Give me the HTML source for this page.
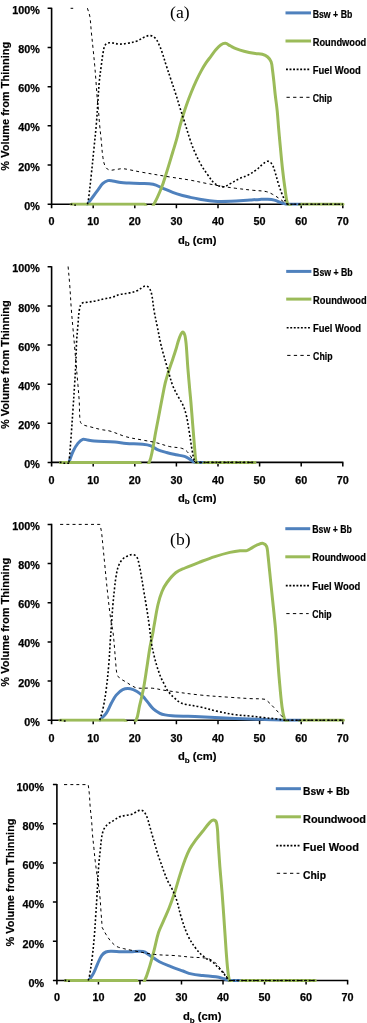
<!DOCTYPE html>
<html><head><meta charset="utf-8"><title>Volume from thinning</title>
<style>
html,body{margin:0;padding:0;background:#fff;}
body{width:367px;height:1023px;overflow:hidden;}
svg{display:block;will-change:transform;}
.tl{font-family:'Liberation Sans', sans-serif;font-weight:bold;font-size:10.8px;fill:#000;stroke:#000;stroke-width:0.25px;}
.ti{font-family:'Liberation Sans', sans-serif;font-weight:bold;font-size:11.2px;fill:#000;stroke:#000;stroke-width:0.2px;}
.lg{font-family:'Liberation Sans', sans-serif;font-weight:bold;fill:#000;stroke:#000;stroke-width:0.2px;}
.pl{font-family:'Liberation Serif',serif;font-size:17.6px;fill:#000;}
</style></head>
<body>
<svg width="367" height="1023" viewBox="0 0 367 1023">
<rect width="367" height="1023" fill="#fff"/>
<path d="M51.60 7.70 V208.20 M51.00 204.20 H343.40" stroke="#000" stroke-width="1.6" fill="none"/>
<path d="M47.60 204.20H51.60M47.60 165.02H51.60M47.60 125.84H51.60M47.60 86.66H51.60M47.60 47.48H51.60M47.60 8.30H51.60M93.20 204.20V208.20M134.80 204.20V208.20M176.40 204.20V208.20M218.00 204.20V208.20M259.60 204.20V208.20M301.20 204.20V208.20M342.80 204.20V208.20" stroke="#000" stroke-width="1.5" fill="none"/>
<clipPath id="c204"><rect x="51.60" y="5.80" width="294.20" height="199.90"/></clipPath>
<g clip-path="url(#c204)"><path d="M87.40 204.20 C89.45 201.43 91.05 199.27 93.10 196.50 C94.86 194.12 96.23 192.27 98.00 189.90 C99.76 187.55 100.77 185.42 102.90 183.40 C104.37 182.00 105.83 181.10 107.80 180.60 C109.51 180.16 110.95 180.63 112.70 180.90 C115.68 181.35 117.91 182.21 120.90 182.60 C123.80 182.97 126.08 182.88 129.00 183.00 C132.96 183.17 136.04 183.20 140.00 183.40 C144.72 183.63 148.48 183.21 153.10 184.20 C156.84 185.00 159.37 186.82 162.90 188.30 C166.43 189.78 169.11 191.08 172.70 192.40 C176.17 193.68 178.94 194.49 182.50 195.50 C185.17 196.26 187.28 196.72 190.00 197.30 C193.51 198.05 196.25 198.64 199.80 199.20 C205.07 200.04 209.17 200.86 214.50 201.20 C220.39 201.58 225.00 201.40 230.90 201.20 C237.79 200.97 243.12 200.43 250.00 200.00 C253.60 199.78 256.40 199.54 260.00 199.40 C262.81 199.29 265.00 199.16 267.80 199.30 C270.15 199.42 272.01 199.52 274.30 200.10 C276.76 200.72 278.51 201.75 280.90 202.60 C282.65 203.22 284.04 203.62 285.80 204.20 C291.34 204.20 295.66 204.20 301.20 204.20" fill="none" stroke="#4F81BD" stroke-width="3" stroke-linecap="round" stroke-linejoin="round"/><path d="M71.20 204.20 C97.59 204.20 118.11 204.20 144.50 204.20 C146.30 205.93 147.00 209.00 149.50 209.00 C151.84 209.00 152.74 206.24 153.90 204.20 C157.03 198.72 158.95 194.16 161.30 188.30 C163.38 183.12 164.52 178.92 166.20 173.60 C168.62 165.96 170.37 159.97 172.70 152.30 C174.08 147.77 175.24 144.27 176.50 139.70 C177.80 135.01 178.53 131.30 179.80 126.60 C180.91 122.47 181.85 119.28 183.10 115.20 C184.19 111.65 185.05 108.89 186.30 105.40 C188.00 100.65 189.41 96.98 191.30 92.30 C192.97 88.16 194.33 84.95 196.20 80.90 C197.86 77.32 199.21 74.56 201.10 71.10 C202.74 68.08 204.10 65.77 206.00 62.90 C207.63 60.43 209.13 58.67 210.90 56.30 C212.66 53.95 213.89 52.02 215.80 49.80 C217.43 47.91 218.63 46.30 220.70 44.90 C222.18 43.90 223.62 43.15 225.40 43.30 C227.26 43.46 228.33 44.86 230.00 45.70 C232.11 46.77 233.70 47.72 235.90 48.60 C238.75 49.74 241.02 50.54 244.00 51.30 C248.06 52.34 251.27 52.92 255.40 53.60 C257.86 54.00 259.89 53.63 262.30 54.30 C264.39 54.88 266.05 55.59 267.70 57.00 C269.31 58.37 270.37 59.81 271.10 61.80 C272.14 64.61 272.08 67.03 272.50 70.00 C273.05 73.91 273.37 76.97 273.80 80.90 C274.34 85.79 274.64 89.61 275.20 94.50 C275.87 100.37 276.60 104.92 277.20 110.80 C277.83 116.98 278.07 121.81 278.60 128.00 C279.11 133.94 279.54 138.56 280.10 144.50 C280.94 153.32 281.52 160.19 282.50 169.00 C283.29 176.11 283.99 181.62 285.00 188.70 C285.76 194.01 285.99 198.23 287.40 203.40 C287.66 204.36 288.72 204.58 289.50 205.20 C291.46 206.77 292.50 209.71 295.00 209.50 C297.93 209.25 298.97 206.11 301.20 204.20 C316.25 204.20 327.95 204.20 343.00 204.20" fill="none" stroke="#9BBB59" stroke-width="3" stroke-linecap="round" stroke-linejoin="round"/><path d="M87.40 204.20 C87.69 203.19 88.06 202.44 88.20 201.40 C89.51 191.41 90.31 183.62 91.40 173.60 C92.36 164.75 93.02 157.86 93.90 149.00 C94.78 140.18 95.56 133.33 96.30 124.50 C97.04 115.69 97.38 108.82 98.00 100.00 C98.46 93.41 98.67 88.27 99.30 81.70 C99.86 75.81 100.54 71.26 101.30 65.40 C101.84 61.25 102.20 58.02 102.90 53.90 C103.35 51.25 103.53 49.11 104.50 46.60 C105.04 45.21 105.64 43.90 107.00 43.30 C108.88 42.47 110.65 42.87 112.70 43.00 C115.07 43.16 116.83 44.05 119.20 44.10 C122.17 44.16 124.48 43.82 127.40 43.30 C130.98 42.66 133.80 42.16 137.20 40.90 C140.14 39.81 141.98 37.96 144.90 36.80 C146.85 36.03 148.53 35.29 150.60 35.60 C152.61 35.90 154.09 36.94 155.50 38.40 C157.15 40.11 157.78 41.96 158.80 44.10 C160.16 46.97 161.06 49.29 162.10 52.30 C163.72 56.97 164.68 60.70 166.20 65.40 C167.92 70.71 169.34 74.81 171.10 80.10 C172.86 85.39 174.30 89.49 176.00 94.80 C177.50 99.50 178.52 103.20 180.00 107.90 C181.43 112.45 182.66 115.95 184.10 120.50 C186.33 127.51 187.83 133.04 190.20 140.00 C191.72 144.49 192.99 147.96 194.90 152.30 C197.02 157.12 198.79 160.83 201.40 165.40 C203.51 169.09 205.50 171.76 208.00 175.20 C210.22 178.25 211.66 180.93 214.50 183.40 C216.49 185.13 218.59 185.78 221.10 186.60 C222.20 186.96 223.20 186.96 224.30 186.60 C226.81 185.78 228.57 184.64 230.90 183.40 C233.86 181.83 235.98 180.26 239.00 178.80 C242.22 177.23 245.01 176.64 248.20 175.00 C251.26 173.42 253.53 171.95 256.30 169.90 C258.84 168.02 260.38 166.01 262.90 164.10 C264.53 162.86 265.75 161.20 267.80 161.20 C269.61 161.20 270.91 162.59 271.90 164.10 C273.64 166.75 274.11 169.29 275.10 172.30 C276.45 176.39 277.08 179.70 278.40 183.80 C279.74 187.95 280.82 191.18 282.50 195.20 C283.77 198.24 284.88 200.58 286.60 203.40 C286.90 203.90 287.50 203.91 288.00 204.20 C307.80 204.20 323.20 204.20 343.00 204.20" fill="none" stroke="#000" stroke-width="1.6" stroke-dasharray="1.9 2.1" stroke-linecap="butt"/><path d="M70.60 8.30 C71.54 8.30 72.26 8.30 73.20 8.30 M87.40 8.20 C88.26 11.12 89.31 13.30 89.80 16.30 C90.76 22.15 90.80 26.80 91.40 32.70 C91.99 38.57 92.51 43.13 93.10 49.00 C93.70 54.90 94.18 59.49 94.70 65.40 C95.22 71.26 95.55 75.83 96.00 81.70 C96.45 87.60 96.70 92.20 97.20 98.10 C97.60 102.75 98.08 106.35 98.50 111.00 C98.94 115.86 99.15 119.65 99.60 124.50 C100.15 130.41 100.70 134.99 101.30 140.90 C101.89 146.77 101.99 151.37 102.90 157.20 C103.43 160.62 103.73 163.42 105.30 166.50 C106.18 168.23 107.53 169.48 109.40 170.00 C111.69 170.64 113.63 169.74 116.00 169.50 C118.35 169.27 120.14 168.62 122.50 168.70 C125.49 168.80 127.76 169.46 130.70 170.00 C134.06 170.61 136.64 171.30 140.00 171.90 C150.79 173.82 159.19 175.23 170.00 177.00 C177.19 178.18 182.82 178.83 190.00 180.10 C195.90 181.14 200.42 182.27 206.30 183.40 C212.19 184.54 216.78 185.42 222.70 186.40 C227.40 187.18 231.07 187.69 235.80 188.30 C242.02 189.10 246.87 189.62 253.10 190.30 C257.81 190.81 261.56 190.63 266.20 191.60 C268.69 192.12 270.45 193.21 272.70 194.40 C275.14 195.70 276.92 196.93 279.20 198.50 C281.64 200.18 283.41 201.65 285.80 203.40 C286.22 203.71 286.57 203.91 287.00 204.20 C307.16 204.20 322.84 204.20 343.00 204.20" fill="none" stroke="#000" stroke-width="1.0" stroke-dasharray="3.0 3.2"/><path d="M70.50 204.20H72.30" stroke="#000" stroke-width="1.6"/><path d="M74.20 205.20H76.00" stroke="#000" stroke-width="1.6"/></g>
<text x="39.80" y="209.80" text-anchor="end" class="tl">0%</text>
<text x="39.80" y="170.62" text-anchor="end" class="tl">20%</text>
<text x="39.80" y="131.44" text-anchor="end" class="tl">40%</text>
<text x="39.80" y="92.26" text-anchor="end" class="tl">60%</text>
<text x="39.80" y="53.08" text-anchor="end" class="tl">80%</text>
<text x="39.80" y="13.90" text-anchor="end" class="tl">100%</text>
<text x="51.60" y="225.00" text-anchor="middle" class="tl">0</text>
<text x="93.20" y="225.00" text-anchor="middle" class="tl">10</text>
<text x="134.80" y="225.00" text-anchor="middle" class="tl">20</text>
<text x="176.40" y="225.00" text-anchor="middle" class="tl">30</text>
<text x="218.00" y="225.00" text-anchor="middle" class="tl">40</text>
<text x="259.60" y="225.00" text-anchor="middle" class="tl">50</text>
<text x="301.20" y="225.00" text-anchor="middle" class="tl">60</text>
<text x="342.80" y="225.00" text-anchor="middle" class="tl">70</text>
<text x="197.20" y="243.50" text-anchor="middle" class="ti">d<tspan font-size="8" dy="2.2">b</tspan><tspan dy="-2.2"> (cm)</tspan></text>
<text transform="translate(8.90 106.25) rotate(-90)" text-anchor="middle" class="ti" font-size="11.9" textLength="128.8" lengthAdjust="spacingAndGlyphs">% Volume from Thinning</text>
<path d="M285.50 12.90H311.00" stroke="#4F81BD" stroke-width="3"/>
<path d="M285.50 41.00H311.00" stroke="#9BBB59" stroke-width="3"/>
<path d="M286.00 69.40H310.00" stroke="#000" stroke-width="1.6" stroke-dasharray="1.9 1.65"/>
<path d="M286.50 97.30H309.50" stroke="#000" stroke-width="1.0" stroke-dasharray="3.3 3.3"/>
<text x="312.70" y="17.50" class="lg" font-size="10.20" textLength="39.6" lengthAdjust="spacingAndGlyphs">Bsw + Bb</text>
<text x="312.70" y="45.60" class="lg" font-size="10.20" textLength="53.6" lengthAdjust="spacingAndGlyphs">Roundwood</text>
<text x="312.70" y="74.00" class="lg" font-size="10.20" textLength="48.0" lengthAdjust="spacingAndGlyphs">Fuel Wood</text>
<text x="312.70" y="101.90" class="lg" font-size="10.20" textLength="19.4" lengthAdjust="spacingAndGlyphs">Chip</text>
<text x="170.10" y="17.70" class="pl">(a)</text>
<path d="M51.60 266.20 V466.40 M51.00 462.40 H343.40" stroke="#000" stroke-width="1.6" fill="none"/>
<path d="M47.60 462.40H51.60M47.60 423.28H51.60M47.60 384.16H51.60M47.60 345.04H51.60M47.60 305.92H51.60M47.60 266.80H51.60M93.20 462.40V466.40M134.80 462.40V466.40M176.40 462.40V466.40M218.00 462.40V466.40M259.60 462.40V466.40M301.20 462.40V466.40M342.80 462.40V466.40" stroke="#000" stroke-width="1.5" fill="none"/>
<clipPath id="c462"><rect x="51.60" y="264.30" width="294.20" height="199.60"/></clipPath>
<g clip-path="url(#c462)"><path d="M68.90 462.40 C70.38 458.48 71.21 455.29 73.00 451.50 C74.46 448.42 75.77 446.06 77.90 443.40 C79.34 441.61 80.62 440.03 82.80 439.30 C84.49 438.73 85.93 439.85 87.70 440.10 C90.03 440.43 91.85 440.73 94.20 440.90 C101.68 441.45 107.52 441.52 115.00 442.10 C119.08 442.42 122.22 443.09 126.30 443.40 C132.19 443.85 136.82 443.63 142.70 444.20 C145.69 444.49 148.08 444.76 150.90 445.80 C153.44 446.73 154.91 448.53 157.40 449.60 C160.56 450.96 163.18 451.59 166.50 452.50 C169.99 453.46 172.76 454.03 176.30 454.80 C179.24 455.44 181.63 455.50 184.50 456.40 C186.39 456.99 187.70 457.88 189.40 458.90 C190.95 459.83 191.93 460.90 193.50 461.80 C194.15 462.17 194.78 462.18 195.50 462.40 C198.60 462.40 201.00 462.40 204.10 462.40" fill="none" stroke="#4F81BD" stroke-width="3" stroke-linecap="round" stroke-linejoin="round"/><path d="M60.40 462.40 C88.84 462.40 110.96 462.40 139.40 462.40 C141.24 464.13 141.98 467.20 144.50 467.20 C146.92 467.20 148.18 464.59 149.20 462.40 C151.15 458.21 151.53 454.52 152.50 450.00 C153.80 443.92 154.38 439.11 155.50 433.00 C156.43 427.95 157.24 424.04 158.20 419.00 C159.58 411.80 160.59 406.19 162.00 399.00 C163.15 393.12 163.91 388.52 165.30 382.70 C166.25 378.72 167.27 375.70 168.50 371.80 C170.00 367.06 171.34 363.42 172.90 358.70 C174.11 355.04 175.06 352.19 176.20 348.50 C177.19 345.31 177.62 342.72 178.80 339.60 C179.86 336.80 180.15 334.08 182.40 332.10 C183.28 331.33 184.18 333.41 184.60 334.50 C185.45 336.72 185.46 338.64 185.80 341.00 C186.11 343.15 186.24 344.84 186.40 347.00 C186.99 354.77 187.29 360.83 187.90 368.60 C188.52 376.45 189.10 382.55 189.80 390.40 C190.18 394.58 190.54 397.82 190.90 402.00 C191.59 410.10 192.05 416.40 192.70 424.50 C193.41 433.32 193.93 440.18 194.70 449.00 C195.11 453.72 195.10 457.45 196.00 462.10 C196.14 462.80 197.03 462.86 197.50 463.40 C198.65 464.71 198.77 467.44 200.50 467.20 C202.75 466.88 203.12 464.13 204.60 462.40 C222.74 462.40 236.86 462.40 255.00 462.40" fill="none" stroke="#9BBB59" stroke-width="3" stroke-linecap="round" stroke-linejoin="round"/><path d="M68.90 462.40 C69.08 460.85 69.27 459.65 69.40 458.10 C70.13 449.28 70.65 442.42 71.30 433.60 C71.95 424.75 72.40 417.86 73.00 409.00 C73.59 400.18 74.06 393.32 74.60 384.50 C75.10 376.40 75.52 370.10 75.90 362.00 C76.24 354.70 76.20 349.00 76.60 341.70 C76.92 335.82 77.38 331.26 77.90 325.40 C78.42 319.49 78.42 314.83 79.50 309.00 C79.91 306.80 80.28 304.73 82.00 303.30 C83.61 301.97 85.64 302.56 87.70 302.20 C90.65 301.69 92.97 301.49 95.90 300.90 C98.84 300.30 101.07 299.56 104.00 298.90 C106.87 298.26 109.17 298.09 112.00 297.30 C114.87 296.50 116.91 295.22 119.80 294.50 C123.27 293.63 126.11 293.69 129.60 292.90 C132.61 292.21 134.97 291.63 137.80 290.40 C139.73 289.56 140.84 288.20 142.70 287.20 C143.81 286.60 144.75 285.85 146.00 286.00 C147.35 286.17 148.44 286.87 149.20 288.00 C150.60 290.08 151.18 292.05 151.70 294.50 C152.95 300.33 153.08 305.02 154.10 310.90 C155.13 316.80 156.22 321.33 157.40 327.20 C158.59 333.10 159.41 337.72 160.70 343.60 C161.39 346.72 162.06 349.12 162.90 352.20 C164.08 356.53 165.07 359.88 166.30 364.20 C167.30 367.73 168.04 370.49 169.10 374.00 C170.41 378.34 171.21 381.80 172.90 386.00 C174.53 390.06 176.25 393.03 178.30 396.90 C179.78 399.69 181.42 401.61 182.70 404.50 C184.24 407.98 185.22 410.80 186.10 414.50 C187.64 420.98 188.30 426.13 189.40 432.70 C190.38 438.55 190.87 443.15 191.90 449.00 C192.63 453.16 193.06 456.46 194.30 460.50 C194.57 461.38 195.39 461.72 196.00 462.40 C217.24 462.40 233.76 462.40 255.00 462.40" fill="none" stroke="#000" stroke-width="1.6" stroke-dasharray="1.9 2.1" stroke-linecap="butt"/><path d="M68.10 266.50 C68.68 272.98 69.21 278.01 69.70 284.50 C70.36 293.31 70.64 300.19 71.30 309.00 C71.83 316.10 72.38 321.61 73.00 328.70 C73.57 335.14 74.04 340.15 74.60 346.60 C75.08 352.14 75.42 356.46 75.90 362.00 C76.61 370.10 77.21 376.40 77.90 384.50 C78.40 390.40 78.82 394.99 79.20 400.90 C79.68 408.31 79.18 414.16 80.30 421.50 C80.52 422.92 81.52 423.94 82.80 424.60 C85.54 426.01 88.03 426.19 91.00 427.00 C94.51 427.96 97.24 428.73 100.80 429.50 C104.09 430.21 106.77 430.17 110.00 431.10 C115.98 432.81 120.31 435.15 126.30 436.80 C132.11 438.40 136.79 438.94 142.70 440.10 C147.41 441.03 151.13 441.48 155.80 442.60 C160.90 443.82 164.68 445.48 169.80 446.60 C173.88 447.50 177.24 447.19 181.30 448.20 C183.22 448.68 184.68 449.43 186.20 450.70 C187.95 452.16 188.84 453.77 190.20 455.60 C191.47 457.31 192.19 458.82 193.50 460.50 C194.11 461.28 194.78 461.72 195.50 462.40 C216.92 462.40 233.58 462.40 255.00 462.40" fill="none" stroke="#000" stroke-width="1.0" stroke-dasharray="3.0 3.2"/><path d="M59.70 462.40H61.50" stroke="#000" stroke-width="1.6"/><path d="M63.40 463.40H65.20" stroke="#000" stroke-width="1.6"/><path d="M67.30 463.40H69.10" stroke="#000" stroke-width="1.6"/></g>
<text x="39.80" y="468.00" text-anchor="end" class="tl">0%</text>
<text x="39.80" y="428.88" text-anchor="end" class="tl">20%</text>
<text x="39.80" y="389.76" text-anchor="end" class="tl">40%</text>
<text x="39.80" y="350.64" text-anchor="end" class="tl">60%</text>
<text x="39.80" y="311.52" text-anchor="end" class="tl">80%</text>
<text x="39.80" y="272.40" text-anchor="end" class="tl">100%</text>
<text x="51.60" y="483.50" text-anchor="middle" class="tl">0</text>
<text x="93.20" y="483.50" text-anchor="middle" class="tl">10</text>
<text x="134.80" y="483.50" text-anchor="middle" class="tl">20</text>
<text x="176.40" y="483.50" text-anchor="middle" class="tl">30</text>
<text x="218.00" y="483.50" text-anchor="middle" class="tl">40</text>
<text x="259.60" y="483.50" text-anchor="middle" class="tl">50</text>
<text x="301.20" y="483.50" text-anchor="middle" class="tl">60</text>
<text x="342.80" y="483.50" text-anchor="middle" class="tl">70</text>
<text x="197.20" y="502.00" text-anchor="middle" class="ti">d<tspan font-size="8" dy="2.2">b</tspan><tspan dy="-2.2"> (cm)</tspan></text>
<text transform="translate(8.90 364.60) rotate(-90)" text-anchor="middle" class="ti" font-size="11.9" textLength="128.8" lengthAdjust="spacingAndGlyphs">% Volume from Thinning</text>
<path d="M286.20 271.40H311.40" stroke="#4F81BD" stroke-width="3"/>
<path d="M286.20 299.10H311.40" stroke="#9BBB59" stroke-width="3"/>
<path d="M286.70 327.70H310.40" stroke="#000" stroke-width="1.6" stroke-dasharray="1.9 1.65"/>
<path d="M287.20 355.40H309.90" stroke="#000" stroke-width="1.0" stroke-dasharray="3.3 3.3"/>
<text x="313.10" y="276.00" class="lg" font-size="10.20" textLength="39.6" lengthAdjust="spacingAndGlyphs">Bsw + Bb</text>
<text x="313.10" y="303.70" class="lg" font-size="10.20" textLength="53.6" lengthAdjust="spacingAndGlyphs">Roundwood</text>
<text x="313.10" y="332.30" class="lg" font-size="10.20" textLength="48.0" lengthAdjust="spacingAndGlyphs">Fuel Wood</text>
<text x="313.10" y="360.00" class="lg" font-size="10.20" textLength="19.4" lengthAdjust="spacingAndGlyphs">Chip</text>
<path d="M51.60 523.80 V724.20 M51.00 720.20 H343.40" stroke="#000" stroke-width="1.6" fill="none"/>
<path d="M47.60 720.20H51.60M47.60 681.04H51.60M47.60 641.88H51.60M47.60 602.72H51.60M47.60 563.56H51.60M47.60 524.40H51.60M93.20 720.20V724.20M134.80 720.20V724.20M176.40 720.20V724.20M218.00 720.20V724.20M259.60 720.20V724.20M301.20 720.20V724.20M342.80 720.20V724.20" stroke="#000" stroke-width="1.5" fill="none"/>
<clipPath id="c720"><rect x="51.60" y="521.90" width="294.20" height="199.80"/></clipPath>
<g clip-path="url(#c720)"><path d="M99.80 720.20 C102.14 717.64 104.35 715.96 106.30 713.10 C108.53 709.83 109.39 706.77 111.30 703.30 C112.96 700.29 114.00 697.74 116.20 695.10 C118.16 692.74 119.90 690.84 122.70 689.60 C125.25 688.47 127.64 688.43 130.40 688.80 C132.94 689.14 134.78 690.21 137.00 691.50 C139.15 692.75 140.64 694.04 142.40 695.80 C144.59 697.99 145.92 700.02 147.90 702.40 C149.85 704.74 151.05 706.85 153.30 708.90 C155.41 710.82 157.36 712.00 159.90 713.30 C161.61 714.18 163.11 714.53 165.00 714.90 C167.49 715.39 169.47 715.56 172.00 715.70 C182.07 716.25 189.92 716.35 200.00 716.80 C210.77 717.28 219.13 717.83 229.90 718.30 C237.13 718.62 242.76 718.75 250.00 719.00 C257.20 719.25 262.80 719.45 270.00 719.70 C275.40 719.89 279.60 720.02 285.00 720.20 C290.83 720.20 295.37 720.20 301.20 720.20" fill="none" stroke="#4F81BD" stroke-width="3" stroke-linecap="round" stroke-linejoin="round"/><path d="M59.90 720.20 C83.08 720.20 101.12 720.20 124.30 720.20 C126.35 721.93 127.32 724.93 130.00 725.00 C132.70 725.07 134.79 722.91 136.00 720.50 C138.40 715.70 138.27 711.23 139.50 706.00 C140.97 699.71 142.28 694.85 143.50 688.50 C144.87 681.37 145.58 675.77 146.70 668.60 C147.88 661.01 148.60 655.07 149.90 647.50 C150.69 642.90 151.62 639.38 152.50 634.80 C153.17 631.28 153.56 628.52 154.20 625.00 C155.54 617.61 156.30 611.81 158.00 604.50 C159.11 599.73 160.15 596.03 162.00 591.50 C163.40 588.07 164.80 585.48 167.00 582.50 C169.87 578.60 172.23 575.54 176.00 572.50 C178.82 570.23 181.68 569.45 185.00 568.00 C190.33 565.67 194.57 564.07 200.00 562.00 C205.33 559.97 209.47 558.34 214.90 556.60 C220.24 554.89 224.44 553.68 229.90 552.40 C233.49 551.56 236.33 551.09 240.00 550.70 C242.43 550.44 244.43 551.20 246.80 550.60 C248.99 550.05 250.32 548.67 252.30 547.60 C254.24 546.55 255.64 545.49 257.70 544.70 C259.60 543.97 261.20 543.04 263.20 543.40 C264.78 543.68 265.97 544.82 266.60 546.30 C267.77 549.05 267.53 551.53 267.90 554.50 C268.50 559.38 268.80 563.20 269.30 568.10 C269.81 573.03 270.19 576.87 270.70 581.80 C271.31 587.67 271.79 592.23 272.40 598.10 C273.01 604.00 273.51 608.59 274.10 614.50 C274.66 620.08 275.14 624.41 275.60 630.00 C276.26 637.99 276.60 644.21 277.20 652.20 C277.93 662.03 278.44 669.68 279.30 679.50 C280.16 689.30 280.72 696.94 282.00 706.70 C282.60 711.25 283.14 714.82 284.50 719.20 C284.80 720.17 285.65 720.64 286.50 721.20 C289.09 722.92 290.89 725.70 294.00 725.50 C297.45 725.28 299.12 722.11 302.00 720.20 C316.90 720.20 328.50 720.20 343.40 720.20" fill="none" stroke="#9BBB59" stroke-width="3" stroke-linecap="round" stroke-linejoin="round"/><path d="M99.80 720.20 C100.99 715.88 102.20 712.59 103.10 708.20 C104.54 701.20 105.39 695.69 106.30 688.60 C107.44 679.77 108.06 672.87 108.80 664.00 C109.54 655.19 109.80 648.32 110.40 639.50 C110.81 633.52 111.17 628.88 111.60 622.90 C112.07 616.42 112.35 611.37 112.90 604.90 C113.40 599.02 113.84 594.46 114.50 588.60 C115.03 583.87 115.36 580.18 116.20 575.50 C116.84 571.92 117.26 569.08 118.60 565.70 C119.63 563.10 120.81 561.16 122.70 559.10 C124.13 557.55 125.69 556.78 127.60 555.90 C129.26 555.14 130.68 554.44 132.50 554.60 C134.15 554.75 135.66 555.34 136.60 556.70 C138.17 558.98 138.35 561.31 139.00 564.00 C140.12 568.67 140.67 572.37 141.50 577.10 C142.43 582.38 143.02 586.51 143.90 591.80 C144.78 597.09 145.56 601.20 146.40 606.50 C147.54 613.73 148.40 619.35 149.40 626.60 C150.24 632.67 150.51 637.45 151.50 643.50 C152.28 648.26 153.17 651.91 154.30 656.60 C155.15 660.16 155.95 662.89 157.00 666.40 C157.72 668.80 158.36 670.64 159.20 673.00 C159.90 674.96 160.44 676.50 161.30 678.40 C162.21 680.43 163.10 681.92 164.10 683.90 C165.08 685.84 165.67 687.45 166.80 689.30 C167.83 690.99 168.80 692.21 170.10 693.70 C171.54 695.35 172.76 696.55 174.40 698.00 C176.30 699.68 177.71 701.12 179.90 702.40 C181.58 703.38 183.10 703.77 185.00 704.20 C190.35 705.40 194.64 705.73 200.00 706.90 C206.49 708.32 211.41 709.97 217.90 711.40 C224.34 712.82 229.37 713.86 235.90 714.80 C240.94 715.52 244.93 715.49 250.00 716.00 C254.90 716.50 258.70 717.06 263.60 717.60 C268.49 718.14 272.32 718.38 277.20 719.00 C279.67 719.31 281.55 719.77 284.00 720.20 C305.38 720.20 322.02 720.20 343.40 720.20" fill="none" stroke="#000" stroke-width="1.6" stroke-dasharray="1.9 2.1" stroke-linecap="butt"/><path d="M60.10 524.40 C74.39 524.40 85.51 524.40 99.80 524.40 C100.38 526.88 101.04 528.78 101.40 531.30 C102.23 537.18 102.50 541.79 103.10 547.70 C103.69 553.57 104.13 558.13 104.70 564.00 C105.28 569.90 105.70 574.50 106.30 580.40 C106.89 586.27 107.35 590.84 108.00 596.70 C108.65 602.61 109.16 607.20 109.90 613.10 C110.35 616.64 110.72 619.38 111.30 622.90 C111.80 625.94 112.51 628.25 112.90 631.30 C113.66 637.18 113.98 641.79 114.50 647.70 C115.02 653.56 115.24 658.14 115.80 664.00 C116.14 667.57 116.10 670.42 117.00 673.90 C117.42 675.53 118.15 676.78 119.40 677.90 C121.48 679.77 123.63 680.51 126.00 682.00 C127.99 683.25 129.44 684.38 131.50 685.50 C133.41 686.54 134.84 687.72 137.00 688.00 C142.43 688.71 146.75 687.73 152.20 688.20 C156.86 688.60 160.37 689.74 165.00 690.40 C177.58 692.19 187.36 693.66 200.00 695.00 C210.74 696.14 219.13 696.52 229.90 697.30 C237.13 697.82 242.76 698.19 250.00 698.60 C255.40 698.91 259.66 698.48 265.00 699.30 C266.20 699.48 266.81 700.48 267.70 701.30 C270.24 703.65 272.11 705.59 274.50 708.10 C277.01 710.74 278.86 712.89 281.30 715.60 C282.78 717.25 283.92 718.54 285.40 720.20 C306.28 720.20 322.52 720.20 343.40 720.20" fill="none" stroke="#000" stroke-width="1.0" stroke-dasharray="3.0 3.2"/><path d="M59.70 720.20H61.50" stroke="#000" stroke-width="1.6"/><path d="M63.80 721.10H65.60" stroke="#000" stroke-width="1.6"/></g>
<text x="39.80" y="725.80" text-anchor="end" class="tl">0%</text>
<text x="39.80" y="686.64" text-anchor="end" class="tl">20%</text>
<text x="39.80" y="647.48" text-anchor="end" class="tl">40%</text>
<text x="39.80" y="608.32" text-anchor="end" class="tl">60%</text>
<text x="39.80" y="569.16" text-anchor="end" class="tl">80%</text>
<text x="39.80" y="530.00" text-anchor="end" class="tl">100%</text>
<text x="51.60" y="742.20" text-anchor="middle" class="tl">0</text>
<text x="93.20" y="742.20" text-anchor="middle" class="tl">10</text>
<text x="134.80" y="742.20" text-anchor="middle" class="tl">20</text>
<text x="176.40" y="742.20" text-anchor="middle" class="tl">30</text>
<text x="218.00" y="742.20" text-anchor="middle" class="tl">40</text>
<text x="259.60" y="742.20" text-anchor="middle" class="tl">50</text>
<text x="301.20" y="742.20" text-anchor="middle" class="tl">60</text>
<text x="342.80" y="742.20" text-anchor="middle" class="tl">70</text>
<text x="197.20" y="760.30" text-anchor="middle" class="ti">d<tspan font-size="8" dy="2.2">b</tspan><tspan dy="-2.2"> (cm)</tspan></text>
<text transform="translate(8.90 622.30) rotate(-90)" text-anchor="middle" class="ti" font-size="11.9" textLength="128.8" lengthAdjust="spacingAndGlyphs">% Volume from Thinning</text>
<path d="M285.30 528.70H310.20" stroke="#4F81BD" stroke-width="3"/>
<path d="M285.30 556.80H310.20" stroke="#9BBB59" stroke-width="3"/>
<path d="M285.80 585.60H309.20" stroke="#000" stroke-width="1.6" stroke-dasharray="1.9 1.65"/>
<path d="M286.30 613.60H308.70" stroke="#000" stroke-width="1.0" stroke-dasharray="3.3 3.3"/>
<text x="312.30" y="533.30" class="lg" font-size="10.20" textLength="39.6" lengthAdjust="spacingAndGlyphs">Bsw + Bb</text>
<text x="312.30" y="561.40" class="lg" font-size="10.20" textLength="53.6" lengthAdjust="spacingAndGlyphs">Roundwood</text>
<text x="312.30" y="590.20" class="lg" font-size="10.20" textLength="48.0" lengthAdjust="spacingAndGlyphs">Fuel Wood</text>
<text x="312.30" y="618.20" class="lg" font-size="10.20" textLength="19.4" lengthAdjust="spacingAndGlyphs">Chip</text>
<text x="170.10" y="545.30" class="pl">(b)</text>
<path d="M56.90 783.90 V984.50 M56.30 980.50 H348.21" stroke="#000" stroke-width="1.6" fill="none"/>
<path d="M52.90 980.50H56.90M52.90 941.30H56.90M52.90 902.10H56.90M52.90 862.90H56.90M52.90 823.70H56.90M52.90 784.50H56.90M98.43 980.50V984.50M139.96 980.50V984.50M181.49 980.50V984.50M223.02 980.50V984.50M264.55 980.50V984.50M306.08 980.50V984.50M347.61 980.50V984.50" stroke="#000" stroke-width="1.5" fill="none"/>
<clipPath id="c980"><rect x="56.90" y="782.00" width="293.71" height="200.00"/></clipPath>
<g clip-path="url(#c980)"><path d="M88.50 980.50 C88.86 980.14 89.21 979.92 89.50 979.50 C91.05 977.25 92.35 975.53 93.60 973.10 C95.31 969.79 96.13 966.98 97.70 963.60 C99.09 960.61 99.89 958.10 101.80 955.40 C102.91 953.83 104.14 952.76 105.90 952.00 C107.70 951.22 109.34 951.33 111.30 951.30 C114.76 951.25 117.44 951.71 120.90 951.80 C124.17 951.89 126.72 951.83 130.00 951.80 C134.72 951.76 138.45 950.79 143.10 951.60 C145.74 952.06 147.33 953.79 149.60 955.20 C153.20 957.43 155.67 959.70 159.40 961.70 C163.37 963.82 166.71 964.95 170.90 966.60 C175.21 968.30 178.64 969.44 183.00 971.00 C185.98 972.07 188.21 973.20 191.30 973.90 C195.38 974.83 198.65 975.01 202.80 975.50 C207.51 976.05 211.22 976.07 215.90 976.80 C218.87 977.26 221.11 977.98 224.00 978.80 C225.83 979.32 227.20 979.89 229.00 980.50 C233.32 980.50 236.68 980.50 241.00 980.50" fill="none" stroke="#4F81BD" stroke-width="3" stroke-linecap="round" stroke-linejoin="round"/><path d="M65.40 980.50 C91.00 980.50 110.90 980.50 136.50 980.50 C137.94 982.19 138.28 985.20 140.50 985.20 C142.77 985.20 143.70 982.54 144.70 980.50 C147.03 975.73 148.01 971.66 149.60 966.60 C151.25 961.36 152.31 957.21 153.70 951.90 C155.55 944.86 156.41 939.23 158.60 932.30 C159.95 928.04 161.73 925.00 163.50 920.90 C165.54 916.18 167.33 912.59 169.20 907.80 C171.44 902.07 172.99 897.54 174.90 891.70 C176.81 885.88 177.95 881.24 179.80 875.40 C181.48 870.08 182.75 865.92 184.70 860.70 C186.28 856.49 187.46 853.16 189.60 849.20 C191.62 845.46 193.69 842.83 196.20 839.40 C198.41 836.38 200.37 834.22 202.70 831.30 C205.05 828.35 206.61 825.84 209.20 823.10 C210.46 821.77 211.47 820.10 213.30 820.10 C214.91 820.10 216.26 821.53 216.60 823.10 C218.10 830.02 217.67 835.64 218.20 842.70 C218.86 851.52 219.22 858.39 219.90 867.20 C220.58 876.03 221.30 882.88 222.00 891.70 C222.74 901.13 223.23 908.47 223.90 917.90 C224.28 923.23 224.52 927.37 224.90 932.70 C225.74 944.47 226.23 953.65 227.30 965.40 C227.78 970.61 228.03 974.70 229.20 979.80 C229.40 980.67 230.32 980.93 231.00 981.50 C232.77 982.98 233.70 985.71 236.00 985.50 C238.75 985.25 239.71 982.30 241.80 980.50 C268.26 980.50 288.84 980.50 315.30 980.50" fill="none" stroke="#9BBB59" stroke-width="3" stroke-linecap="round" stroke-linejoin="round"/><path d="M88.20 980.50 C88.67 978.81 89.20 977.53 89.50 975.80 C90.68 968.95 91.46 963.60 92.30 956.70 C93.19 949.37 93.69 943.65 94.30 936.30 C94.91 928.96 95.22 923.25 95.70 915.90 C96.19 908.52 96.57 902.78 97.00 895.40 C97.36 889.17 97.54 884.33 97.90 878.10 C98.19 873.20 98.39 869.39 98.80 864.50 C99.22 859.56 99.69 855.73 100.20 850.80 C100.66 846.41 100.88 842.97 101.50 838.60 C101.85 836.13 102.14 834.18 102.90 831.80 C103.48 829.97 104.11 828.57 105.20 827.00 C106.19 825.58 107.22 824.65 108.60 823.60 C110.45 822.19 112.13 821.43 114.10 820.20 C116.05 818.98 117.36 817.63 119.50 816.80 C122.07 815.80 124.29 815.74 127.00 815.20 C128.47 814.91 129.68 814.97 131.10 814.50 C132.66 813.99 133.73 813.23 135.20 812.50 C136.68 811.76 137.69 810.79 139.30 810.40 C140.49 810.11 141.63 810.10 142.70 810.70 C143.99 811.42 144.63 812.54 145.40 813.80 C146.38 815.41 146.87 816.82 147.50 818.60 C148.35 821.01 148.80 822.95 149.50 825.40 C150.49 828.85 151.21 831.55 152.20 835.00 C153.19 838.43 154.01 841.08 155.00 844.50 C155.99 847.92 156.62 850.61 157.70 854.00 C158.82 857.49 159.87 860.15 161.10 863.60 C162.32 867.02 163.20 869.71 164.50 873.10 C165.65 876.08 166.52 878.42 167.90 881.30 C169.23 884.08 170.70 886.01 172.00 888.80 C173.84 892.75 175.26 895.85 176.60 900.00 C178.65 906.35 179.37 911.54 181.40 917.90 C183.51 924.52 185.10 929.73 188.10 936.00 C190.49 940.99 192.93 944.61 196.30 949.00 C198.83 952.29 201.17 954.60 204.40 957.20 C207.08 959.35 209.85 960.04 212.60 962.10 C214.60 963.59 215.74 965.24 217.50 967.00 C219.26 968.76 220.78 970.00 222.40 971.90 C224.32 974.15 225.50 976.15 227.30 978.50 C227.88 979.25 228.39 979.78 229.00 980.50 C260.07 980.50 284.23 980.50 315.30 980.50" fill="none" stroke="#000" stroke-width="1.6" stroke-dasharray="1.9 2.1" stroke-linecap="butt"/><path d="M64.00 784.60 C72.71 784.60 79.49 784.60 88.20 784.60 C88.60 787.84 89.01 790.35 89.30 793.60 C89.73 798.49 89.79 802.31 90.20 807.20 C90.62 812.14 91.18 815.96 91.60 820.90 C92.01 825.79 92.09 829.61 92.50 834.50 C92.91 839.40 93.40 843.20 93.90 848.10 C94.40 853.00 94.72 856.81 95.30 861.70 C95.95 867.22 96.56 871.49 97.30 877.00 C98.18 883.63 99.10 888.75 99.80 895.40 C100.47 901.75 100.62 906.73 101.10 913.10 C101.49 918.28 101.80 922.32 102.20 927.50 C103.53 929.91 104.42 931.88 105.90 934.20 C107.70 937.03 109.07 939.29 111.30 941.80 C113.03 943.75 114.52 945.24 116.80 946.50 C119.04 947.74 121.12 947.94 123.60 948.60 C125.88 949.20 127.68 949.56 130.00 950.00 C138.81 951.65 145.61 953.29 154.50 954.40 C161.84 955.31 167.63 955.04 175.00 955.60 C180.88 956.05 185.42 956.72 191.30 957.20 C196.01 957.58 199.73 957.28 204.40 958.00 C207.45 958.47 209.97 958.89 212.60 960.50 C215.42 962.23 216.90 964.53 219.10 967.00 C221.62 969.83 223.46 972.14 225.70 975.20 C227.03 977.01 227.81 978.59 229.00 980.50 C260.07 980.50 284.23 980.50 315.30 980.50" fill="none" stroke="#000" stroke-width="1.0" stroke-dasharray="3.0 3.2"/><path d="M64.50 980.40H66.30" stroke="#000" stroke-width="1.6"/><path d="M68.10 981.40H69.90" stroke="#000" stroke-width="1.6"/></g>
<text x="44.10" y="986.70" text-anchor="end" class="tl">0%</text>
<text x="44.10" y="947.50" text-anchor="end" class="tl">20%</text>
<text x="44.10" y="908.30" text-anchor="end" class="tl">40%</text>
<text x="44.10" y="869.10" text-anchor="end" class="tl">60%</text>
<text x="44.10" y="829.90" text-anchor="end" class="tl">80%</text>
<text x="44.10" y="790.70" text-anchor="end" class="tl">100%</text>
<text x="56.90" y="1001.40" text-anchor="middle" class="tl">0</text>
<text x="98.43" y="1001.40" text-anchor="middle" class="tl">10</text>
<text x="139.96" y="1001.40" text-anchor="middle" class="tl">20</text>
<text x="181.49" y="1001.40" text-anchor="middle" class="tl">30</text>
<text x="223.02" y="1001.40" text-anchor="middle" class="tl">40</text>
<text x="264.55" y="1001.40" text-anchor="middle" class="tl">50</text>
<text x="306.08" y="1001.40" text-anchor="middle" class="tl">60</text>
<text x="347.61" y="1001.40" text-anchor="middle" class="tl">70</text>
<text x="202.25" y="1020.30" text-anchor="middle" class="ti">d<tspan font-size="8" dy="2.2">b</tspan><tspan dy="-2.2"> (cm)</tspan></text>
<text transform="translate(13.90 882.50) rotate(-90)" text-anchor="middle" class="ti" font-size="11.9" textLength="128.0" lengthAdjust="spacingAndGlyphs">% Volume from Thinning</text>
<path d="M275.80 788.70H300.90" stroke="#4F81BD" stroke-width="3"/>
<path d="M275.80 816.80H300.90" stroke="#9BBB59" stroke-width="3"/>
<path d="M276.30 845.60H299.90" stroke="#000" stroke-width="1.6" stroke-dasharray="1.9 1.65"/>
<path d="M276.80 873.30H299.40" stroke="#000" stroke-width="1.0" stroke-dasharray="3.3 3.3"/>
<text x="303.00" y="794.50" class="lg" font-size="11.00" textLength="46.6" lengthAdjust="spacingAndGlyphs">Bsw + Bb</text>
<text x="303.00" y="822.60" class="lg" font-size="11.00" textLength="63.0" lengthAdjust="spacingAndGlyphs">Roundwood</text>
<text x="303.00" y="851.40" class="lg" font-size="11.00" textLength="56.0" lengthAdjust="spacingAndGlyphs">Fuel Wood</text>
<text x="303.00" y="879.10" class="lg" font-size="11.00" textLength="23.0" lengthAdjust="spacingAndGlyphs">Chip</text>
</svg>
</body></html>
